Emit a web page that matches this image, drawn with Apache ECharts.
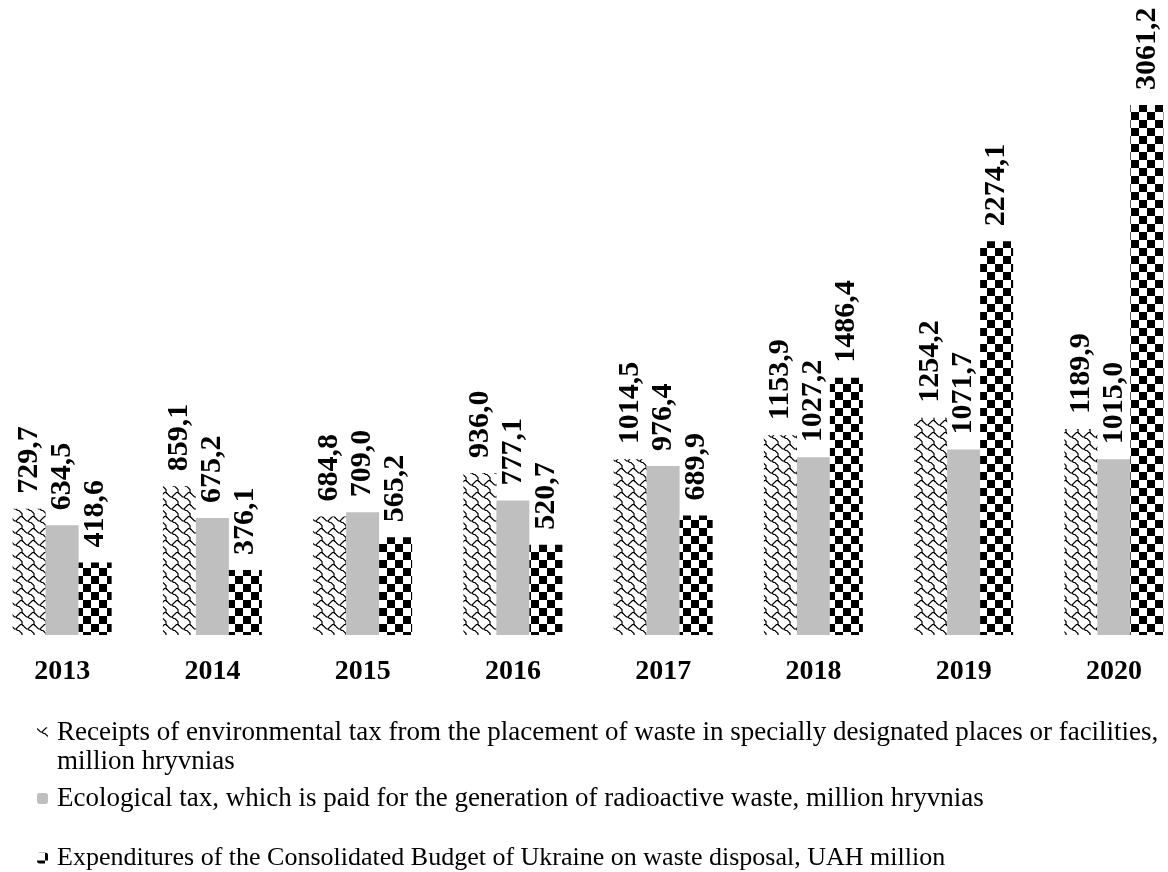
<!DOCTYPE html>
<html>
<head>
<meta charset="utf-8">
<script src="https://cdn.jsdelivr.net/npm/echarts@6/dist/echarts.min.js"></script>
<style>
html,body{margin:0;padding:0;background:#fff;overflow:hidden;width:1168px;height:872px;position:relative;}
#chart{position:absolute;left:-13px;top:0;width:1202px;height:872px;}
</style>
</head>
<body>
<div id="chart"></div>
<script>
const years = ['2013','2014','2015','2016','2017','2018','2019','2020'];
const envTax = [729.7, 859.1, 684.8, 936.0, 1014.5, 1153.9, 1254.2, 1189.9];
const ecoTax = [634.5, 675.2, 709.0, 777.1, 976.4, 1027.2, 1071.7, 1015.0];
const expenditures = [418.6, 376.1, 565.2, 520.7, 689.9, 1486.4, 2274.1, 3061.2];
const seriesNames = [
  'Receipts of environmental tax from the placement of waste in specially designated places or facilities, million hryvnias',
  'Ecological tax, which is paid for the generation of radioactive waste, million hryvnias',
  'Expenditures of the Consolidated Budget of Ukraine on waste disposal, UAH million'
];

function shinglePattern(){
  const c = document.createElement('canvas');
  c.width = 12; c.height = 12;
  const ctx = c.getContext('2d');
  ctx.fillStyle = '#fff'; ctx.fillRect(0,0,12,12);
  ctx.strokeStyle = '#000'; ctx.lineWidth = 1.2;
  const s = 1.5;
  const lines = [
    [[0,1],[2,3],[3,3],[6,0],[7,0],[8,1]],
    [[3,3],[4,4],[5,4],[7,6],[7,8]],
    [[-1,0],[0,1]]
  ];
  for (const dx of [-12,0,12]) for (const dy of [-12,0,12]) {
    for (const pl of lines){
      ctx.beginPath();
      pl.forEach((p,i)=>{ const x=p[0]*s+0.5+dx, y=p[1]*s+0.5+dy; if(i===0) ctx.moveTo(x,y); else ctx.lineTo(x,y); });
      ctx.stroke();
    }
  }
  return c;
}
function checkerPattern(){
  const c = document.createElement('canvas');
  const s = 8;
  c.width = 2*s; c.height = 2*s;
  const ctx = c.getContext('2d');
  ctx.fillStyle = '#fff'; ctx.fillRect(0,0,2*s,2*s);
  ctx.fillStyle = '#000';
  ctx.fillRect(s,0,s,s); ctx.fillRect(0,s,s,s);
  return c;
}
const fmt = v => v.toFixed(1).replace('.', ',');
const labelCfg = {
  show: true, position: 'top', distance: 15, rotate: 90,
  align: 'left', verticalAlign: 'middle',
  fontFamily: 'Liberation Serif', fontWeight: 'bold', fontSize: 30, color: '#000',
  formatter: p => fmt(p.value)
};
const chart = echarts.init(document.getElementById('chart'), null, {renderer:'canvas'});
const legendText = {fontFamily:'Liberation Serif', fontSize: 27, color:'#000', padding:[0,0,0,4]};
const legendBase = {left: 50, padding: 0, itemWidth: 11, itemHeight: 11, textStyle: legendText, selectedMode: false};
chart.setOption({
  animation: false,
  backgroundColor: '#fff',
  grid: {left: 0, right: 0, top: 29, bottom: 237, containLabel: false},
  xAxis: {
    type: 'category', data: years,
    axisLine: {show: false}, axisTick: {show: false},
    axisLabel: {fontFamily:'Liberation Serif', fontWeight:'bold', fontSize: 28, color:'#000', margin: 23}
  },
  yAxis: {type: 'value', min: 0, max: 3500, show: false, splitLine: {show:false}},
  legend: [
    Object.assign({}, legendBase, {data:[seriesNames[0]], top: 719,
     formatter: () => 'Receipts of environmental tax from the placement of waste in specially designated places or facilities,'}),
    Object.assign({}, legendBase, {data:[seriesNames[1]], top: 785}),
    Object.assign({}, legendBase, {data:[seriesNames[2]], top: 845,
     textStyle: Object.assign({}, legendText, {fontSize: 26})})
  ],
  graphic: [{type:'text', left: 70, top: 748, style:{text:'million hryvnias', font:'27px "Liberation Serif"', fill:'#000'}}],
  series: [
    {name: seriesNames[0], type:'bar', data: envTax, barWidth: 33, barGap: '0%',
     itemStyle: {color: {image: shinglePattern(), repeat: 'repeat'}}, label: labelCfg},
    {name: seriesNames[1], type:'bar', data: ecoTax, barWidth: 33, barGap: '0%',
     itemStyle: {color: '#bfbfbf'}, label: labelCfg},
    {name: seriesNames[2], type:'bar', data: expenditures, barWidth: 33, barGap: '0%',
     itemStyle: {color: {image: checkerPattern(), repeat: 'repeat'}}, label: labelCfg}
  ]
});
</script>
</body>
</html>
